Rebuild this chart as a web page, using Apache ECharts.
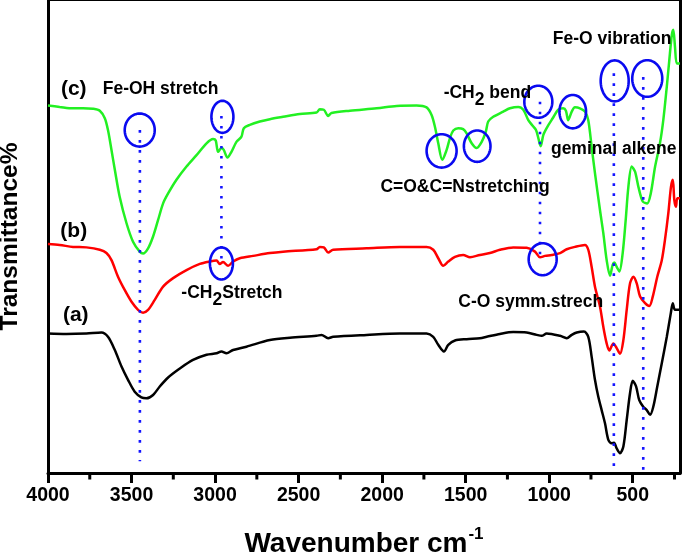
<!DOCTYPE html>
<html>
<head>
<meta charset="utf-8">
<script src="https://cdn.jsdelivr.net/npm/echarts@6/dist/echarts.min.js"></script>
<style>html,body{margin:0;padding:0;background:#fff}#c{width:685px;height:554px}</style>
</head>
<body>
<div id="c"></div>
<script>
// ---------- DATA ----------
const xTickValues = [4000, 3500, 3000, 2500, 2000, 1500, 1000, 500];
const xMinorTickValues = [3750, 3250, 2750, 2250, 1750, 1250, 750, 250];

// (c) green
const greenWn = [4000,3930,3850,3790,3730,3690,3660,3641,3620,3600,3571,3530,3491,3451,3431,3401,3371,3341,3311,3281,3231,3171,3111,3051,3012,2996,2982,2962,2948,2926,2902,2872,2842,2828,2792,2732,2672,2593,2493,2393,2373,2349,2323,2303,2193,2033,1913,1794,1734,1704,1684,1664,1640,1614,1594,1574,1544,1515,1494,1464,1434,1404,1379,1365,1335,1275,1235,1185,1155,1125,1099,1079,1065,1051,1035,1011,979,946,916,900,886,865,846,816,786,766,746,726,696,676,656,636,620,610,596,580,560,542,526,506,486,466,440,413,392,366,337,317,296,281,266,257,247,236,217];
const greenT = [77.7,77.4,77.1,77.1,77.0,76.6,75.0,72.5,68.3,64.1,58.4,52.8,48.9,46.8,46.4,47.5,50.0,53.5,57.0,59.1,62.0,64.8,67.2,69.7,70.6,70.3,67.9,68.7,68.3,66.7,67.9,70.0,71.1,72.9,73.6,74.3,74.8,75.3,75.9,76.2,76.9,76.8,75.5,76.1,76.6,77.1,77.6,77.7,77.3,75.7,73.2,69.7,66.2,68.3,70.8,72.4,72.9,72.7,71.8,69.7,68.7,70.0,72.2,74.3,75.3,76.4,77.1,77.4,76.8,74.6,73.4,72.5,70.8,69.1,71.5,73.2,75.0,76.8,77.1,76.6,74.6,76.4,77.3,77.1,76.4,74.6,69.0,63.4,55.6,50.7,45.0,41.7,44.0,44.5,43.6,42.6,46.5,53.5,60.5,64.8,63.7,60.5,57.4,57.0,59.1,64.8,69.7,74.6,81.7,87.3,92.6,93.7,90.1,86.6,86.6];

// (b) red
const redWn = [4000,3930,3850,3770,3690,3650,3620,3581,3541,3500,3461,3431,3401,3361,3311,3251,3171,3091,3032,2991,2972,2952,2922,2892,2852,2772,2672,2593,2393,2373,2349,2323,2293,2093,1894,1734,1694,1664,1634,1604,1564,1515,1474,1415,1355,1295,1215,1135,1085,1055,1025,985,935,895,846,786,766,746,726,696,676,656,640,616,596,576,556,536,516,496,476,456,426,401,380,353,326,307,287,271,260,251,241,233,217];
const redT = [48.4,48.2,47.8,47.7,47.2,46.5,45.0,41.5,38.7,36.2,34.5,33.9,34.5,36.6,39.4,41.2,42.9,44.2,44.7,44.9,44.2,44.6,43.8,44.7,45.4,45.9,46.5,46.8,47.3,47.8,47.7,46.6,47.2,47.5,47.8,47.8,47.2,45.4,43.8,44.7,45.7,46.1,45.6,46.1,46.5,47.2,47.7,47.6,46.8,45.6,45.9,46.1,46.5,47.3,47.8,48.2,47.2,43.6,39.4,35.2,30.9,27.4,25.9,27.4,26.4,25.2,28.1,34.5,40.1,41.5,40.1,37.3,35.9,35.3,37.3,41.5,45.0,49.3,54.9,60.5,62.0,57.7,56.3,58.1,58.1];

// (a) black
const blackWn = [4000,3890,3770,3680,3641,3600,3560,3521,3481,3441,3411,3371,3331,3281,3211,3132,3051,2991,2962,2932,2892,2812,2672,2552,2393,2363,2323,2293,2093,1894,1734,1694,1664,1630,1604,1564,1494,1415,1374,1295,1215,1135,1075,1045,1015,935,895,865,835,792,766,746,726,706,686,666,646,626,612,596,576,556,536,516,500,480,461,437,416,396,377,353,326,296,272,260,247,217];
const blackT = [29.5,29.4,29.5,29.7,28.8,26.0,22.5,19.7,17.2,16.0,15.8,16.5,18.3,20.2,22.1,23.9,25.0,25.3,25.7,25.3,26.0,26.7,28.1,28.6,29.0,29.2,28.5,28.8,29.2,29.5,29.5,28.8,27.1,25.7,27.1,28.0,28.3,28.5,28.8,29.4,29.8,29.7,29.2,29.0,29.5,29.0,28.5,29.2,29.7,29.9,28.8,24.6,19.7,16.1,13.3,10.5,7.0,6.3,6.4,5.2,4.2,5.6,11.2,16.9,19.5,18.3,15.4,14.0,13.3,12.3,14.0,18.3,23.2,28.8,33.8,35.9,34.5,34.5];

// dotted guide lines (wavenumber, top value, bottom value)
const guideWn = [3450, 2962, 1055, 613, 437];
const guideTop = [72.5, 75.5, 78.5, 84.5, 83.7];
const guideBottom = [2.5, 44.3, 45.2, 1.0, 0];

// circled bands (centre wavenumber, centre value)
const circleWn = [3451, 2956, 2962, 1644, 1431, 1065, 859, 608, 413, 1039];
const circleT = [72.5, 75.3, 44.3, 68.1, 69.1, 78.5, 76.4, 82.9, 83.4, 45.2];

// annotation texts (anchor wavenumber, anchor value)
const noteTexts = ['(c)', 'Fe-OH stretch', '(b)', '(a)', '-CH{s|2}Stretch', 'C=O&C=Nstretching', '-CH{s|2} bend', 'geminal alkene', 'Fe-O vibration', 'C-O symm.strech'];
const noteWn = [3846, 3326, 3846, 3834, 2899, 1504, 1370, 614, 623, 1110];
const noteT = [81.2, 81.1, 51.2, 33.4, 38.0, 60.5, 80.4, 68.4, 91.8, 36.2];

// ---------- STYLE ----------
const FONT = '"Liberation Sans", Arial, Helvetica, sans-serif';
const CIRCLE_R = [[15,16.5],[11,16],[11.5,16],[15,16.7],[13.3,15.7],[14,16],[13.3,16.7],[14,20.5],[15,18.3],[14,16]];
const NOTE_BIG = [true, false, true, true, false, false, false, false, false, false];
const X_MIN = 217, X_MAX = 4000;
const MINOR_TICK_LEN = 6.5;

function zip(a, b) { return a.map((v, i) => [v, b[i]]); }

const chart = echarts.init(document.getElementById('c'), null, {renderer: 'canvas'});

const series = [
  {type: 'line', name: 'a', data: zip(blackWn, blackT), showSymbol: false, smooth: 0.3,
   lineStyle: {color: '#000000', width: 2.5}, itemStyle: {color: '#000'}, z: 3},
  {type: 'line', name: 'b', data: zip(redWn, redT), showSymbol: false, smooth: 0.3,
   lineStyle: {color: '#ff0000', width: 2.5}, itemStyle: {color: '#f00'}, z: 3},
  {type: 'line', name: 'c', data: zip(greenWn, greenT), showSymbol: false, smooth: 0.3,
   lineStyle: {color: '#22f022', width: 2.5}, itemStyle: {color: '#2f2'}, z: 3}
];

// minor ticks along the bottom axis, placed through the x scale
series.push({
  type: 'custom', z: 7, silent: true, clip: false,
  data: xMinorTickValues.map(v => [v, 0]),
  encode: {x: 0, y: 1},
  renderItem: function (params, api) {
    const p = api.coord([api.value(0), 0]);
    return {type: 'line', shape: {x1: p[0], y1: p[1], x2: p[0], y2: p[1] + MINOR_TICK_LEN},
      style: {stroke: '#000', lineWidth: 3}};
  }
});

guideWn.forEach((w, i) => {
  series.push({type: 'line', data: [[w, guideTop[i]], [w, guideBottom[i]]], showSymbol: false,
    lineStyle: {color: '#1414ff', width: 2.6, type: [2.6, 7.4], cap: 'butt'}, z: 4, silent: true});
});

series.push({
  type: 'custom', z: 5, silent: true, clip: false,
  data: zip(circleWn, circleT),
  encode: {x: 0, y: 1},
  renderItem: function (params, api) {
    const c = api.coord([api.value(0), api.value(1)]);
    const r = CIRCLE_R[params.dataIndex];
    const pts = [];
    for (let k = 0; k < 72; k++) {
      const a = k / 72 * Math.PI * 2;
      pts.push([c[0] + r[0] * Math.cos(a), c[1] + r[1] * Math.sin(a)]);
    }
    return {type: 'polygon', shape: {points: pts}, style: {stroke: '#0a0af0', fill: 'none', lineWidth: 2.6}};
  }
});

series.push({
  type: 'custom', z: 6, silent: true, clip: false,
  data: zip(noteWn, noteT),
  encode: {x: 0, y: 1},
  renderItem: function (params, api) {
    const i = params.dataIndex;
    const p = api.coord([api.value(0), api.value(1)]);
    const fs = NOTE_BIG[i] ? 21 : 17.5;
    return {type: 'text', x: p[0], y: p[1], style: {
      text: noteTexts[i], fill: '#000', fontSize: fs, fontWeight: 'bold', fontFamily: FONT,
      align: 'center', verticalAlign: 'middle', lineHeight: 22,
      rich: {s: {fontSize: 17.5, fontWeight: 'bold', fontFamily: FONT, fill: '#000', lineHeight: 22, padding: [14, 0, 0, 0]}}
    }};
  }
});

const option = {
  animation: false,
  backgroundColor: '#ffffff',
  grid: {left: 48, right: 5, top: 0, bottom: 81, containLabel: false, outerBoundsMode: 'none'},
  xAxis: [
    {type: 'value', inverse: true, min: X_MIN, max: X_MAX, position: 'bottom',
     name: 'Wavenumber cm{sup|-1}', nameLocation: 'middle', nameGap: 56,
     nameTextStyle: {fontSize: 28, fontWeight: 'bold', fontFamily: FONT, color: '#000', lineHeight: 30,
       rich: {sup: {fontSize: 17, fontWeight: 'bold', fontFamily: FONT, color: '#000', lineHeight: 10, padding: [0, 0, 20, 1]}}},
     axisLine: {show: true, onZero: false, lineStyle: {color: '#000', width: 3}},
     axisTick: {show: true, inside: false, length: 10, customValues: xTickValues, lineStyle: {color: '#000', width: 3}},
     axisLabel: {show: true, margin: 13, customValues: xTickValues, fontSize: 19.5, fontWeight: 'bold', fontFamily: FONT, color: '#000',
       formatter: function (v) { return String(v); }},
     splitLine: {show: false}},
    {type: 'value', inverse: true, min: X_MIN, max: X_MAX, position: 'top', gridIndex: 0,
     axisLine: {show: true, onZero: false, lineStyle: {color: '#000', width: 2}},
     axisTick: {show: false}, axisLabel: {show: false}, splitLine: {show: false}}
  ],
  yAxis: [
    {type: 'value', min: 0, max: 100, position: 'left',
     name: 'Transmittance%', nameLocation: 'middle', nameGap: 25, nameRotate: 90,
     nameTextStyle: {fontSize: 24.5, fontWeight: 'bold', fontFamily: FONT, color: '#000'},
     axisLine: {show: true, onZero: false, lineStyle: {color: '#000', width: 3}},
     axisTick: {show: false}, axisLabel: {show: false}, splitLine: {show: false}},
    {type: 'value', min: 0, max: 100, position: 'right',
     axisLine: {show: true, onZero: false, lineStyle: {color: '#000', width: 3}},
     axisTick: {show: false}, axisLabel: {show: false}, splitLine: {show: false}}
  ],
  series: series
};

chart.setOption(option);
</script>
</body>
</html>
